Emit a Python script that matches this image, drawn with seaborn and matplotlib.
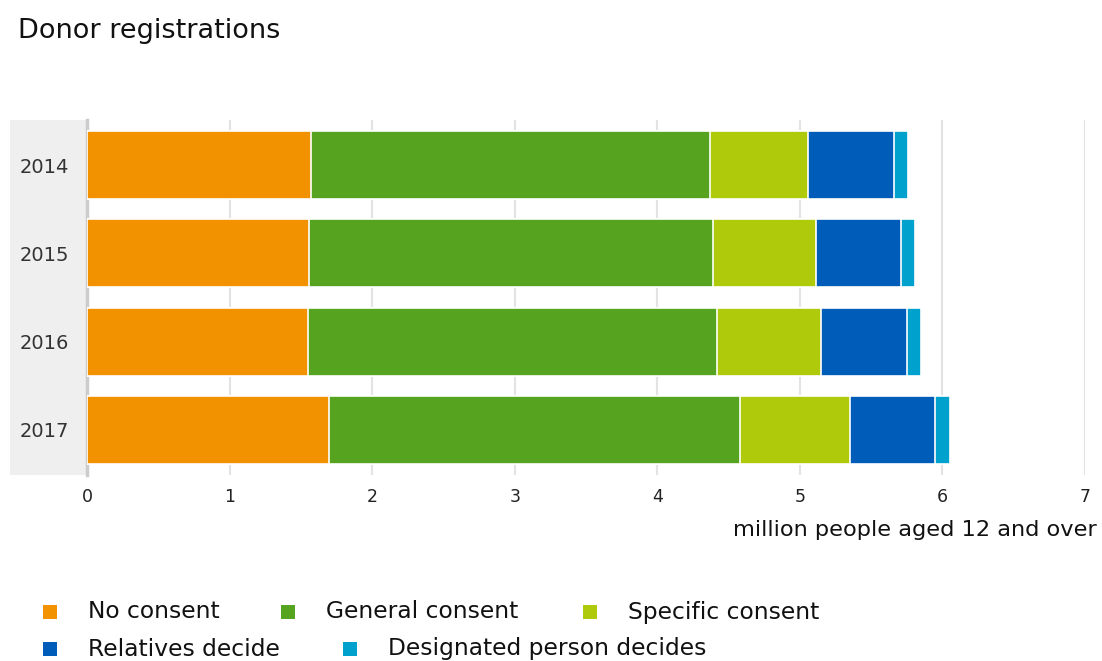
import numpy as np
import pandas as pd
import seaborn as sns
import matplotlib
matplotlib.use("Agg")
import matplotlib.pyplot as plt
from matplotlib.patches import Rectangle

years = ["2014", "2015", "2016", "2017"]
no_consent = [1.57, 1.56, 1.55, 1.70]
general_consent = [2.80, 2.83, 2.87, 2.88]
specific_consent = [0.69, 0.72, 0.73, 0.77]
relatives_decide = [0.60, 0.60, 0.60, 0.60]
designated_person = [0.10, 0.10, 0.10, 0.10]

series_names = ["No consent", "General consent", "Specific consent",
                "Relatives decide", "Designated person decides"]
series_values = [no_consent, general_consent, specific_consent,
                 relatives_decide, designated_person]
colors = ["#F39200", "#56A31F", "#AFCA0B", "#005CB9", "#00A1CD"]

sns.set_theme(style="white")
plt.rcParams['font.family'] = ['DejaVu Sans']

fig = plt.figure(figsize=(11.02, 6.61), dpi=100)
ax = fig.add_axes([87/1102, 1-475/661, (1085-87)/1102, (475-120)/661])

# gray label panel (behind the axes)
fig.patches.append(Rectangle((10/1102, 1-475/661), 77/1102, 355/661,
                             transform=fig.transFigure, facecolor="#EFEFEF",
                             edgecolor="none", zorder=-5))

cum = np.zeros(len(years))
cums = []
for vals in series_values:
    cum = cum + np.array(vals)
    cums.append(cum.copy())

# draw from outermost cumulative to innermost
for i in range(len(series_names) - 1, -1, -1):
    d = pd.DataFrame({"year": years, "value": cums[i]})
    sns.barplot(data=d, x="value", y="year", orient="h", color=colors[i],
                saturation=1, width=0.77, edgecolor="white", linewidth=1.2,
                ax=ax, zorder=3)

ax.set_xlim(0, 7)
ax.set_ylim(3.51, -0.51)
ax.set_xticks(range(0, 8))
ax.set_xticklabels([str(v) for v in range(0, 8)])
ax.tick_params(axis="x", length=6, color="#DDDDDD", width=1.5, pad=3,
               labelsize=12.5, labelcolor="#222222")
ax.tick_params(axis="y", length=7, color="#CCCCCC", width=1, pad=6,
               labelsize=14, labelcolor="#333333")
ax.set_xlabel("")
ax.set_ylabel("")
ax.grid(axis="x", color="#E3E3E3", linewidth=1.5, zorder=0)
ax.set_axisbelow(True)
for s in ["top", "right", "bottom"]:
    ax.spines[s].set_visible(False)
ax.spines["left"].set_color("#CCCCCC")
ax.spines["left"].set_linewidth(2.5)
ax.set_facecolor("none")

fig.text(18/1102, 1-31/661, "Donor registrations", fontsize=19.5,
         color="#111111", va="center", ha="left")
fig.text(1097/1102, 1-530/661, "million people aged 12 and over", fontsize=16.2,
         color="#111111", va="center", ha="right")

# legend (flow layout)
legend_pos = [(50, 611), (288, 611), (590, 611), (50, 648), (350, 648)]
for (px, py), name, c in zip(legend_pos, series_names, colors):
    fig.patches.append(Rectangle(((px-7)/1102, 1-(py+8)/661), 14/1102, 14/661,
                                 transform=fig.transFigure, facecolor=c,
                                 edgecolor="none"))
    fig.text((px+38)/1102, 1-(py+1)/661, name, fontsize=16.8, color="#111111",
             va="center", ha="left")

fig.savefig("out.png", dpi=100, facecolor="white")
